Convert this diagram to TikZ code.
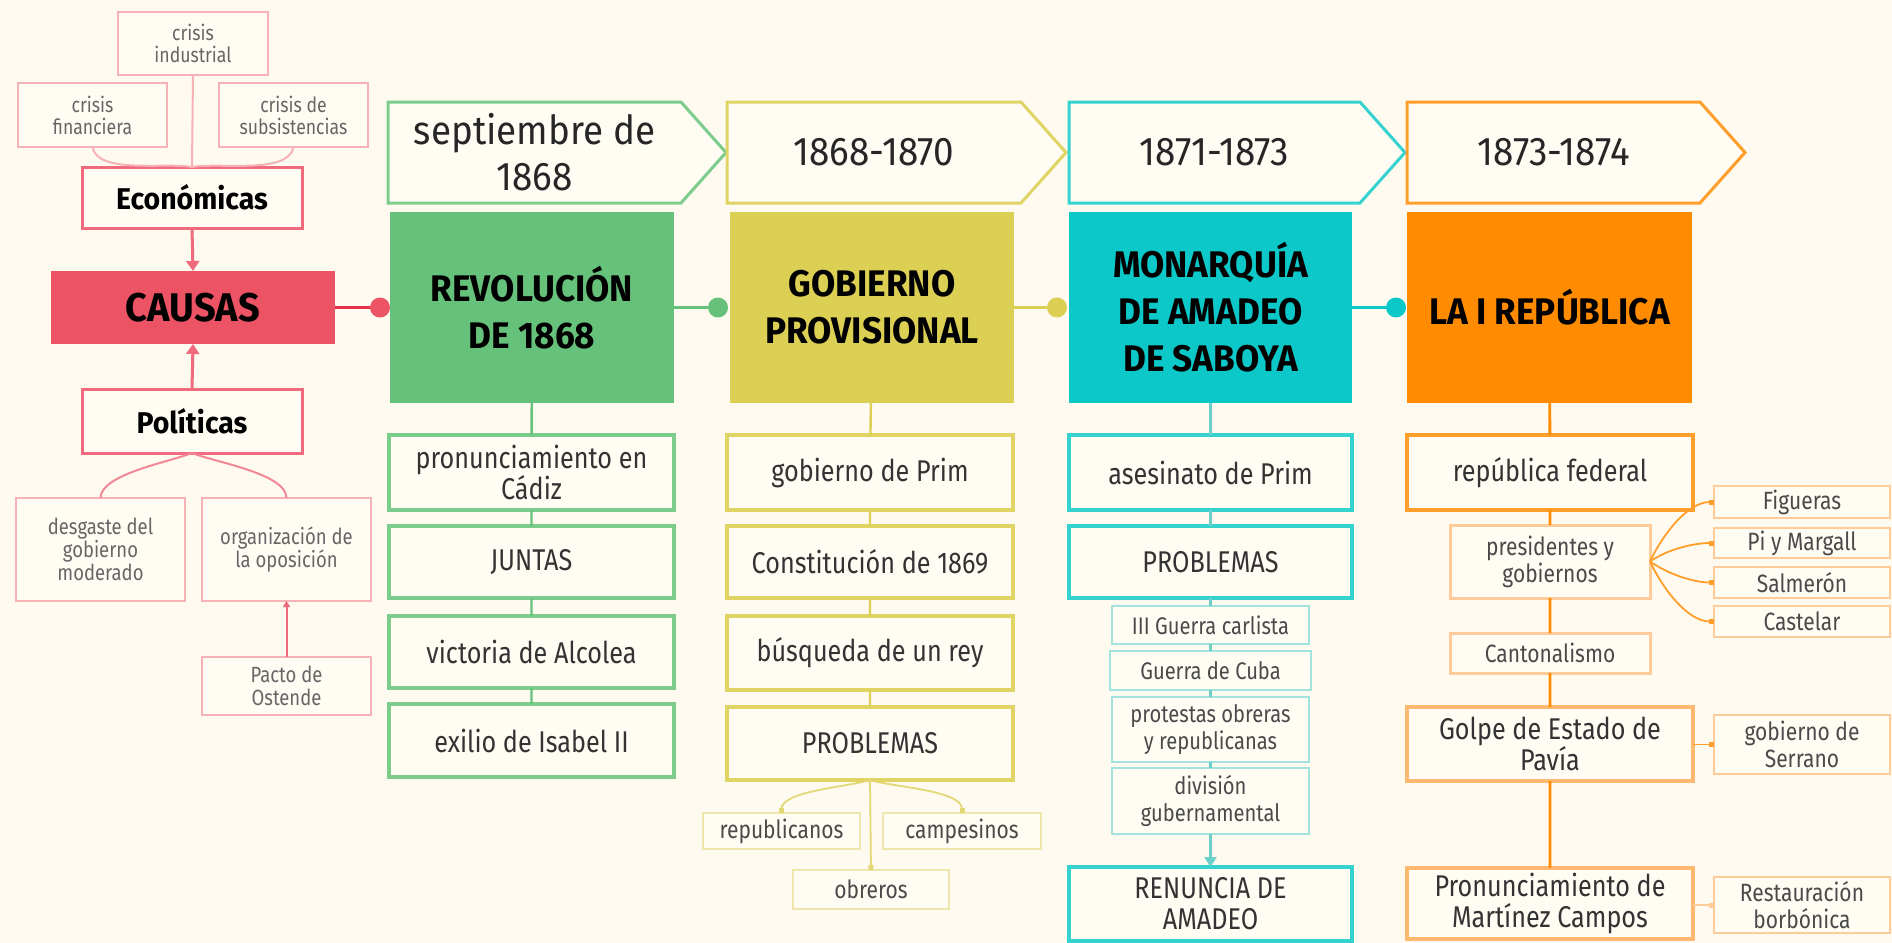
\documentclass[tikz,border=0pt]{standalone}
\usepackage{fontspec}
\setmainfont{Fira Sans}[FakeStretch=0.84]
\newfontfamily\titlef{Fira Sans}[FakeStretch=0.95]
\newfontfamily\datef{Fira Sans}[FakeStretch=0.92]
\usetikzlibrary{arrows.meta}
\definecolor{bgc}{HTML}{FFFAF0}
\definecolor{boxfill}{HTML}{FFFCF4}
\definecolor{txt}{HTML}{333333}
\definecolor{txtb}{HTML}{4A4A4A}
\definecolor{txtc}{HTML}{666666}
\definecolor{causac}{HTML}{EC5466}
\definecolor{pinkm}{HTML}{EE6A7C}
\definecolor{pinkl}{HTML}{F6B2B7}
\definecolor{pinkd}{HTML}{E8304C}
\definecolor{greenf}{HTML}{66C17A}
\definecolor{greenb}{HTML}{7CCC8C}
\definecolor{yellowf}{HTML}{DBCF54}
\definecolor{yellowb}{HTML}{DFD464}
\definecolor{yellowl}{HTML}{EEE6AA}
\definecolor{cyanf}{HTML}{0CC8C8}
\definecolor{cyanb}{HTML}{35D2CF}
\definecolor{cyanl}{HTML}{A2E3DD}
\definecolor{cyana}{HTML}{6CCFC8}
\definecolor{orangef}{HTML}{FF8C00}
\definecolor{orangeb}{HTML}{FF9E2A}
\definecolor{orangem}{HTML}{FFB870}
\definecolor{orangel}{HTML}{FFCB98}
\newcommand\mybox[7]{\node[#2, minimum width={(#5-#3)*0.5pt}, minimum height={(#6-#4)*0.5pt}] (#1) at ({(#3+#5)/2},{(#4+#6)/2}) {#7};}
\newcommand\mydate[8]{%
  \draw[datebox, draw=#2] (#3,#4) -- (#5,#4) -- (#6,{(#4+#7)/2}) -- (#5,#7) -- (#3,#7) -- cycle;
  \node[datetext] (#1) at ({(#3+#5)/2},{(#4+#7)/2}) {#8};}
\tikzset{
  every node/.style={inner sep=0pt, outer sep=0pt},
  titlebox/.style={align=center, font=\titlef\bfseries\fontsize{18.5}{23.5}\selectfont, text=black},
  subbox/.style={draw, line width=1.8pt, fill=boxfill, align=center, font=\fontsize{15}{15.5}\selectfont, text=txt},
  smallbox/.style={draw, line width=1.2pt, fill=boxfill, align=center, font=\fontsize{12.5}{13.5}\selectfont, text=txtb},
  crisisbox/.style={draw=pinkl, line width=1.1pt, fill=boxfill, align=center, font=\fontsize{10.5}{11}\selectfont, text=txtc},
  causebox/.style={draw=pinkm, line width=1.5pt, fill=boxfill, align=center, font=\titlef\bfseries\fontsize{15}{18}\selectfont, text=black},
  datebox/.style={line width=1.5pt, fill=boxfill, line join=miter},
  datetext/.style={align=center, font=\datef\fontsize{20}{23}\selectfont, text=black!85},
  bigdot/.style={circle, minimum size=10pt},
  vline/.style={line width=1.2pt},
  pinkarrow/.style={draw=pinkm, line width=1.5pt, -{Triangle[length=5pt,width=6.5pt]}},
  fanline/.style={line width=0.9pt, -{Square[length=2.5pt,width=2.5pt]}},
}
\begin{document}
\begin{tikzpicture}[x=0.5pt,y=-0.5pt]
\useasboundingbox (0,0) rectangle (1892,943);
\fill[bgc] (0,0) rectangle (1892,943);

% ---- causes ----
\mybox{ci}{crisisbox}{118}{12}{268}{75}{crisis\\industrial}
\mybox{cf}{crisisbox}{18}{83}{167}{147}{crisis\\financiera}
\mybox{cs}{crisisbox}{219}{83}{368}{147}{crisis de\\subsistencias}
\mybox{eco}{causebox}{82}{167}{302}{228}{Económicas}
\mybox{causas}{fill=causac, draw=none, align=center, font=\titlef\bfseries\fontsize{20}{24}\selectfont, text=black}{51}{271}{335}{344}{CAUSAS}
\mybox{pol}{causebox}{82}{389}{302}{453}{Políticas}
\mybox{des}{crisisbox, font=\fontsize{11}{11.5}\selectfont}{16}{498}{185}{601}{desgaste del\\gobierno\\moderado}
\mybox{org}{crisisbox, font=\fontsize{11}{11.5}\selectfont}{202}{498}{371}{601}{organización de\\la oposición}
\mybox{pacto}{crisisbox, font=\fontsize{11}{11.5}\selectfont}{202}{657}{371}{715}{Pacto de\\Ostende}

\draw[pinkl, line width=1pt] (ci.south) -- (eco.north);
\draw[pinkl, line width=1pt] (cf.south) to[out=-80,in=170,looseness=0.7] (eco.north);
\draw[pinkl, line width=1pt] (cs.south) to[out=-100,in=10,looseness=0.7] (eco.north);
\draw[pinkarrow] (eco.south) -- (causas.north);
\draw[pinkarrow] (pol.north) -- (causas.south);
\draw[pinkm!80, line width=1pt] (pol.south) to[out=-158,in=90,looseness=0.6] (des.north);
\draw[pinkm!80, line width=1pt] (pol.south) to[out=-22,in=90,looseness=0.6] (org.north);
\draw[pinkm, line width=1pt, -{Triangle[length=3pt,width=3.5pt]}] (pacto.north) -- (org.south);

% ---- dates ----
\mydate{d1}{greenb}{388}{102}{681}{726}{203}{septiembre de\\1868}
\mydate{d2}{yellowb}{727}{102}{1021}{1066}{203}{1868-1870}
\mydate{d3}{cyanb}{1069}{102}{1360}{1405}{203}{1871-1873}
\mydate{d4}{orangeb}{1407}{102}{1700}{1745}{203}{1873-1874}

% ---- title boxes ----
\mybox{rev}{titlebox, fill=greenf}{390}{212}{674}{403}{REVOLUCIÓN\\DE 1868}
\mybox{gob}{titlebox, fill=yellowf}{730}{212}{1014}{403}{GOBIERNO\\PROVISIONAL}
\mybox{mon}{titlebox, fill=cyanf}{1069}{212}{1352}{403}{MONARQUÍA\\DE AMADEO\\DE SABOYA}
\mybox{rep}{titlebox, fill=orangef}{1407}{212}{1692}{403}{LA I REPÚBLICA}

\node[bigdot, fill=causac] (k1) at (380,307.5) {};
\node[bigdot, fill=greenf] (k2) at (718,307.5) {};
\node[bigdot, fill=yellowf] (k3) at (1057,307.5) {};
\node[bigdot, fill=cyanf] (k4) at (1396,307.5) {};
\draw[pinkd, line width=1.5pt] (causas.east) -- (k1);
\draw[greenf, line width=1.5pt] (rev.east) -- (k2);
\draw[yellowf, line width=1.5pt] (gob.east) -- (k3);
\draw[cyanf, line width=1.5pt] (mon.east) -- (k4);

% ---- green column ----
\mybox{g1}{subbox, draw=greenb}{389}{435}{674}{510}{pronunciamiento en\\Cádiz}
\mybox{g2}{subbox, draw=greenb}{389}{526}{674}{598}{JUNTAS}
\mybox{g3}{subbox, draw=greenb}{389}{616}{674}{688}{victoria de Alcolea}
\mybox{g4}{subbox, draw=greenb}{389}{704}{674}{777}{exilio de Isabel II}
\draw[vline, greenf] (rev) -- (g1) -- (g2) -- (g3) -- (g4);

% ---- yellow column ----
\mybox{y1}{subbox, draw=yellowb}{727}{435}{1013}{510}{gobierno de Prim}
\mybox{y2}{subbox, draw=yellowb}{727}{526}{1013}{598}{Constitución de 1869}
\mybox{y3}{subbox, draw=yellowb}{727}{616}{1013}{690}{búsqueda de un rey}
\mybox{y4}{subbox, draw=yellowb}{727}{707}{1013}{780}{PROBLEMAS}
\mybox{y5}{smallbox, draw=yellowl}{703}{813}{860}{849}{republicanos}
\mybox{y6}{smallbox, draw=yellowl}{883}{813}{1041}{849}{campesinos}
\mybox{y7}{smallbox, draw=yellowl}{793}{870}{949}{909}{obreros}
\draw[vline, yellowf] (gob) -- (y1) -- (y2) -- (y3) -- (y4);
\draw[fanline, yellowf!80] (y4.south) to[out=-162,in=90,looseness=0.6] (y5.north);
\draw[fanline, yellowf!80] (y4.south) to[out=-18,in=90,looseness=0.6] (y6.north);
\draw[fanline, yellowf!80] (y4.south) -- (y7.north);

% ---- cyan column ----
\mybox{c1}{subbox, draw=cyanb}{1069}{435}{1352}{510}{asesinato de Prim}
\mybox{c2}{subbox, draw=cyanb}{1069}{526}{1352}{598}{PROBLEMAS}
\mybox{c3}{smallbox, draw=cyanl, font=\fontsize{12}{13.5}\selectfont}{1112}{606}{1309}{644}{III Guerra carlista}
\mybox{c4}{smallbox, draw=cyanl, font=\fontsize{12}{13.5}\selectfont}{1110}{651}{1311}{690}{Guerra de Cuba}
\mybox{c5}{smallbox, draw=cyanl, font=\fontsize{12}{13.5}\selectfont}{1112}{697}{1309}{762}{protestas obreras\\y republicanas}
\mybox{c6}{smallbox, draw=cyanl, font=\fontsize{12}{13.5}\selectfont}{1112}{768}{1309}{834}{división\\gubernamental}
\mybox{c7}{subbox, draw=cyanb}{1069}{867}{1352}{941}{RENUNCIA DE\\AMADEO}
\draw[vline, cyana] (mon) -- (c1) -- (c2) -- (c3) -- (c4) -- (c5) -- (c6);
\draw[vline, cyana, -{Triangle[length=5pt,width=6pt]}] (c6) -- (c7);

% ---- orange column ----
\mybox{o1}{subbox, draw=orangeb}{1407}{435}{1693}{510}{república federal}
\mybox{o2}{smallbox, draw=orangel, line width=1.5pt}{1450}{525}{1650}{598}{presidentes y\\gobiernos}
\mybox{o3}{smallbox, draw=orangel, line width=1.5pt}{1450}{633}{1650}{673}{Cantonalismo}
\mybox{o4}{subbox, draw=orangem}{1407}{707}{1693}{781}{Golpe de Estado de\\Pavía}
\mybox{o5}{subbox, draw=orangem}{1407}{868}{1693}{939}{Pronunciamiento de\\Martínez Campos}
\mybox{f1}{smallbox, draw=orangel}{1714}{486}{1890}{518}{Figueras}
\mybox{f2}{smallbox, draw=orangel}{1714}{528}{1890}{558}{Pi y Margall}
\mybox{f3}{smallbox, draw=orangel}{1714}{567}{1890}{598}{Salmerón}
\mybox{f4}{smallbox, draw=orangel}{1714}{606}{1890}{637}{Castelar}
\mybox{f5}{smallbox, draw=orangel}{1714}{715}{1890}{774}{gobierno de\\Serrano}
\mybox{f6}{smallbox, draw=orangel}{1714}{877}{1890}{933}{Restauración\\borbónica}
\draw[vline, orangef, line width=1.4pt] (rep) -- (o1) -- (o2) -- (o3) -- (o4) -- (o5);
\draw[fanline, orangeb] (o2.east) to[out=65,in=180,looseness=0.8] (f1.west);
\draw[fanline, orangeb] (o2.east) to[out=35,in=180,looseness=0.8] (f2.west);
\draw[fanline, orangeb] (o2.east) to[out=-35,in=180,looseness=0.8] (f3.west);
\draw[fanline, orangeb] (o2.east) to[out=-65,in=180,looseness=0.8] (f4.west);
\draw[fanline, orangeb] (o4.east |- f5.west) -- (f5.west);
\draw[fanline, orangel] (o5.east |- f6.west) -- (f6.west);
\end{tikzpicture}
\end{document}
